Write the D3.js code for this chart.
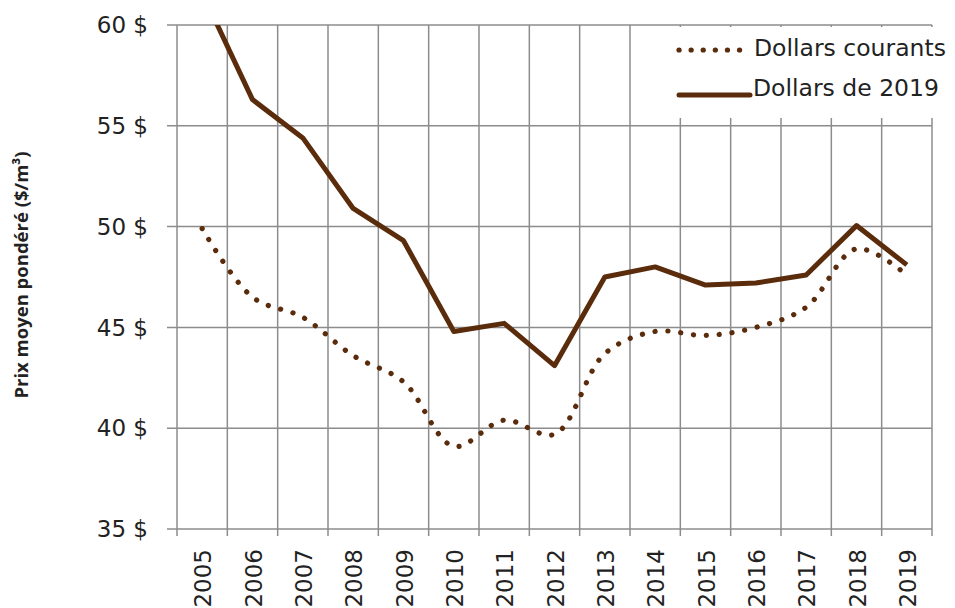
<!DOCTYPE html>
<html>
<head>
<meta charset="utf-8">
<script src="https://cdn.jsdelivr.net/npm/d3@7"></script>
<style>
  body { margin: 0; background: #fff; }
  svg text { font-family: "DejaVu Sans", "Open Sans", sans-serif; fill: #222; }
</style>
</head>
<body>
<svg id="chart" width="955" height="608"></svg>
<script>
  // annees et valeurs
  var years = ["2005", "2006", "2007", "2008", "2009", "2010", "2011", "2012",
               "2013", "2014", "2015", "2016", "2017", "2018", "2019"];
  var courants = [49.9, 46.5, 45.5, 43.6, 42.3, 39.1, 40.4, 39.7, 43.7, 44.8, 44.6, 45.0, 46.0, 48.9, 47.6];
  var constants = [61.6, 56.3, 54.4, 50.9, 49.3, 44.8, 45.2, 43.1, 47.5, 48.0, 47.1, 47.2, 47.6, 50.05, 48.1];
  var yTicks = [35, 40, 45, 50, 55, 60];

  var brown = "#5a2c0c",
      grid = "#8c8c8c";

  var mLeft = 177, mRight = 932, mTop = 25, mBottom = 529;

  var svg = d3.select("#chart");

  var x = d3.scaleBand()
      .domain(years)
      .range([mLeft, mRight]);

  var y = d3.scaleLinear()
      .domain([35, 60])
      .range([mBottom, mTop]);

  function cx(d, i) { return x(years[i]) + x.bandwidth() / 2; }

  svg.append("defs").append("clipPath").attr("id", "plot")
    .append("rect")
      .attr("x", mLeft).attr("y", mTop)
      .attr("width", mRight - mLeft).attr("height", mBottom - mTop);

  // horizontal grid + y ticks
  svg.append("g").selectAll("line")
      .data(yTicks)
    .enter().append("line")
      .attr("x1", mLeft - 10).attr("x2", mRight)
      .attr("y1", function(d) { return y(d); })
      .attr("y2", function(d) { return y(d); })
      .attr("stroke", grid).attr("stroke-width", 1.5);

  // vertical grid at category borders
  var borders = years.map(function(d) { return x(d); }).concat([mRight]);
  svg.append("g").selectAll("line")
      .data(borders)
    .enter().append("line")
      .attr("x1", function(d) { return d; })
      .attr("x2", function(d) { return d; })
      .attr("y1", mTop).attr("y2", mBottom + 7)
      .attr("stroke", grid).attr("stroke-width", 1.5);

  svg.append("g").selectAll("text")
      .data(yTicks)
    .enter().append("text")
      .attr("x", 148)
      .attr("y", function(d) { return y(d); })
      .attr("dy", "0.36em")
      .attr("text-anchor", "end")
      .style("font-size", "23px")
      .text(function(d) { return d + " $"; });

  svg.append("g").selectAll("text")
      .data(years)
    .enter().append("text")
      .attr("transform", function(d) {
        return "translate(" + (x(d) + x.bandwidth() / 2 + 1) + ",549) rotate(-90)";
      })
      .attr("dy", "0.36em")
      .attr("text-anchor", "end")
      .style("font-size", "23px")
      .text(function(d) { return d; });

  svg.append("text")
      .attr("transform", "translate(22,275) rotate(-90)")
      .attr("text-anchor", "middle")
      .attr("dy", "0.35em")
      .style("font-family", "'Open Sans', sans-serif")
      .style("font-size", "18.5px")
      .style("font-weight", "bold")
      .text("Prix moyen pondéré ($/m³)");

  var plot = svg.append("g").attr("clip-path", "url(#plot)");

  var dotted = d3.line()
      .x(cx)
      .y(function(d) { return y(d); })
      .curve(d3.curveCatmullRom.alpha(0.5));

  var straight = d3.line()
      .x(cx)
      .y(function(d) { return y(d); });

  plot.append("path")
      .attr("d", dotted(courants))
      .attr("fill", "none")
      .attr("stroke", brown)
      .attr("stroke-width", 5.2)
      .attr("stroke-linecap", "round")
      .attr("stroke-dasharray", "0.1 12.8");

  plot.append("path")
      .attr("d", straight(constants))
      .attr("fill", "none")
      .attr("stroke", brown)
      .attr("stroke-width", 5)
      .attr("stroke-linejoin", "round");

  // legend
  var legend = svg.append("g");
  legend.append("rect")
      .attr("x", 672).attr("y", 27)
      .attr("width", 283).attr("height", 91)
      .attr("fill", "#fff");

  legend.append("line")
      .attr("x1", 679).attr("x2", 740)
      .attr("y1", 50).attr("y2", 50)
      .attr("stroke", brown).attr("stroke-width", 5.2)
      .attr("stroke-linecap", "round")
      .attr("stroke-dasharray", "0.1 12");
  legend.append("text")
      .attr("x", 754).attr("y", 56)
      .style("font-size", "23.5px")
      .text("Dollars courants");

  legend.append("line")
      .attr("x1", 679).attr("x2", 750)
      .attr("y1", 95).attr("y2", 95)
      .attr("stroke", brown).attr("stroke-width", 5)
      .attr("stroke-linecap", "round");
  legend.append("text")
      .attr("x", 753).attr("y", 96)
      .style("font-size", "23.5px")
      .text("Dollars de 2019");
</script>
</body>
</html>
